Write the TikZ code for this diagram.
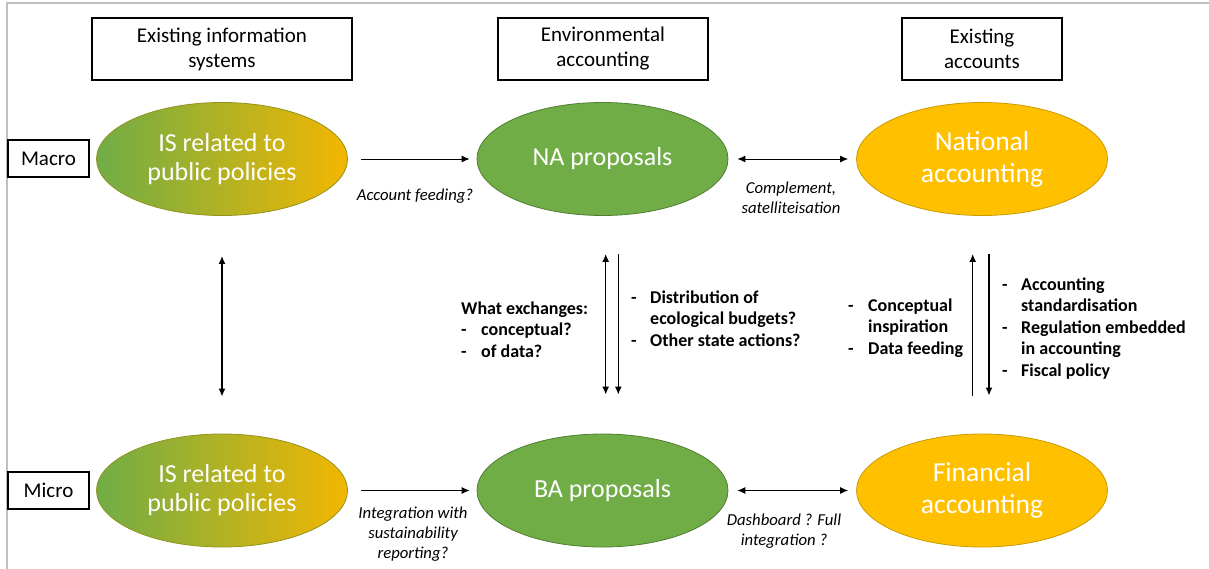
\documentclass[tikz,border=0pt]{standalone}
\usepackage{fontspec}
\setmainfont{Carlito}
\usetikzlibrary{shapes.geometric,arrows.meta}
\definecolor{gr}{HTML}{70AD47}
\definecolor{grd}{HTML}{507E32}
\definecolor{og}{HTML}{FFC000}
\definecolor{ogd}{HTML}{C89A00}
\definecolor{frame}{RGB}{191,191,191}
\begin{document}
\begin{tikzpicture}[x=1pt,y=-1pt,
  hbox/.style={draw=black,line width=1.1pt,minimum width=#1,minimum height=62pt,align=center,inner sep=0pt,font=\fontsize{21}{25}\selectfont},
  rowbox/.style={draw=black,line width=1.1pt,minimum width=81pt,minimum height=37pt,inner sep=0pt,font=\fontsize{21}{24}\selectfont},
  ell/.style={ellipse,minimum width=251pt,minimum height=113pt,inner sep=0pt,align=center,text=white,line width=0.8pt},
  greenell/.style={ell,fill=gr,draw=grd,font=\fontsize{26}{30}\selectfont},
  orangeell/.style={ell,fill=og,draw=ogd,font=\fontsize{27.5}{32}\selectfont},
  gradell/.style={ell,left color=gr,right color=og!95!black,draw=gr!50!og!80!black,font=\fontsize{26}{29}\selectfont},
  arr/.style={line width=0.9pt,-{Latex[length=8pt,width=7pt]}},
  darr/.style={line width=0.9pt,{Latex[length=8pt,width=7pt]}-{Latex[length=8pt,width=7pt]}},
  varr/.style={line width=1.5pt,-{Latex[length=8pt,width=7pt]}},
  vdarr/.style={line width=1.5pt,{Latex[length=8pt,width=7pt]}-{Latex[length=8pt,width=7pt]}},
  lab/.style={align=center,inner sep=0pt,font=\fontsize{16.7}{19.8}\selectfont\itshape},
  lst/.style={align=left,inner sep=0pt,anchor=north west,font=\fontsize{18}{21.5}\selectfont\bfseries}
]
\useasboundingbox (0,0) rectangle (1209,569);
% frame
\draw[frame,line width=2pt] (7,569) -- (7,3) -- (1209,3);

% header boxes
\node[hbox=260pt] (h1) at (222,49) {Existing information\\systems};
\node[hbox=210pt] (h2) at (603,49) {Environmental\\accounting};
\node[hbox=160pt] (h3) at (982,49) {Existing\\accounts};

% row boxes
\node[rowbox] (macro) at (48.5,158.5) {Macro};
\node[rowbox] (micro) at (48.5,490.5) {Micro};

% ellipses
\node[gradell] (ist) at (222,159) {IS related to\\public policies};
\node[greenell] (na) at (602.5,159) {NA proposals};
\node[orangeell] (nat) at (982,159) {National\\accounting};
\node[gradell] (isb) at (222,490.5) {IS related to\\public policies};
\node[greenell] (ba) at (602.5,490.5) {BA proposals};
\node[orangeell] (fin) at (982,490.5) {Financial\\accounting};

% horizontal connectors
\draw[arr] ([xshift=13pt]ist.east) -- ([xshift=-7pt]na.west);
\draw[darr] ([xshift=9pt]na.east) -- ([xshift=-8pt]nat.west);
\draw[arr] ([xshift=13pt]isb.east) -- ([xshift=-7pt]ba.west);
\draw[darr] ([xshift=9pt]ba.east) -- ([xshift=-8pt]fin.west);

\node[lab] (l1) at (415,196) {Account feeding?};
\node[lab] (l2) at (791,198) {Complement,\\satelliteisation};
\node[lab] (l3) at (413,534) {Integration with\\sustainability\\reporting?};
\node[lab] (l4) at (784,531) {Dashboard ? Full\\integration ?};

% vertical connectors
\draw[vdarr] ([yshift=-40pt]ist.south) -- ([yshift=37pt]isb.north);
\draw[vdarr] ([xshift=3.2pt,yshift=-38pt]na.south) -- ([xshift=3.2pt,yshift=39pt]ba.north);
\draw[varr] ([xshift=15.8pt,yshift=-38pt]na.south) -- ([xshift=15.8pt,yshift=39pt]ba.north);
\draw[varr] ([xshift=-9.3pt,yshift=38pt]fin.north) -- ([xshift=-9.3pt,yshift=-38pt]nat.south);
\draw[varr] ([xshift=7pt,yshift=-38pt]nat.south) -- ([xshift=7pt,yshift=38pt]fin.north);

% lists
\node[lst] (t1) at (461,299) {\begin{tabular}{@{}p{20pt}@{}l@{}}
\multicolumn{2}{@{}l@{}}{What exchanges:}\\
- & conceptual?\\
- & of data?
\end{tabular}};
\node[lst] (t2) at (631,288) {\begin{tabular}{@{}p{19pt}@{}l@{}}
- & Distribution of\\
 & ecological budgets?\\
- & Other state actions?
\end{tabular}};
\node[lst] (t3) at (848,296) {\begin{tabular}{@{}p{20pt}@{}l@{}}
- & Conceptual\\
 & inspiration\\
- & Data feeding
\end{tabular}};
\node[lst] (t4) at (1002,275) {\begin{tabular}{@{}p{19pt}@{}l@{}}
- & Accounting\\
 & standardisation\\
- & Regulation embedded\\
 & in accounting\\
- & Fiscal policy
\end{tabular}};
\end{tikzpicture}
\end{document}
